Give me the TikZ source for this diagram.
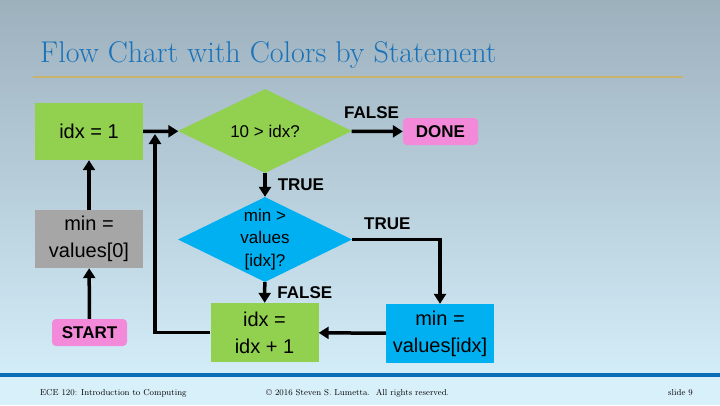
\documentclass[tikz,border=0pt]{standalone}
\usepackage{fontspec}
\newfontfamily\arial{Liberation Sans}
\usetikzlibrary{arrows.meta,shapes.geometric}

\definecolor{bgtop}{HTML}{9DB1BD}
\definecolor{bgmid}{HTML}{BDD7E4}
\definecolor{bgbot}{HTML}{D2ECF8}
\definecolor{footbg}{HTML}{D8F0FA}
\definecolor{footblue}{HTML}{0B6DB7}
\definecolor{titleblue}{HTML}{1A72B9}
\definecolor{rulegold}{HTML}{C8B26C}
\definecolor{stmtgreen}{HTML}{92D050}
\definecolor{stmtblue}{HTML}{00B0F0}
\definecolor{stmtgray}{HTML}{A6A6A6}
\definecolor{termpink}{HTML}{F28AD9}

\tikzset{
  stmt/.style={rectangle, inner sep=0pt, minimum width=108pt, minimum height=58pt,
    align=center, font=\arial\fontsize{20}{27}\selectfont},
  terminal/.style={rectangle, rounded corners=4pt, fill=termpink, inner sep=0pt,
    minimum width=75pt, minimum height=27pt, font=\arial\bfseries\fontsize{17}{17}\selectfont},
  decision/.style={diamond, aspect=2.05, inner sep=0pt, minimum width=174pt, minimum height=85pt,
    align=center, font=\arial\fontsize{17}{22.5}\selectfont},
  lbl/.style={inner sep=0pt, font=\arial\bfseries\fontsize{17}{17}\selectfont},
  flow/.style={line width=3.5pt, -{Triangle[length=10pt,width=12pt]}},
  foot/.style={inner sep=0pt, anchor=base west, font=\fontsize{8.6}{9}\selectfont}
}

\begin{document}
\begin{tikzpicture}[x=1pt,y=-1pt]
\useasboundingbox (0,0) rectangle (720,405);

% slide background and footer band
\shade[top color=bgtop, middle color=bgmid, bottom color=bgbot] (0,0) rectangle (720,373);
\fill[footbg] (0,373) rectangle (720,405);
\fill[footblue] (0,372.5) rectangle (720,377);

% title and rule
\node[anchor=base west, inner sep=0pt, text=titleblue, font=\fontsize{30}{30}\selectfont]
  (title) at (40,62) {Flow Chart with Colors by Statement};
\draw[line width=2pt, rulegold] (33,77) -- (683,77);

% flow chart nodes
\node[terminal] (start) at (89.5,332.5) {START};
\node[stmt, fill=stmtgray] (init) at (89,239) {min =\\values[0]};
\node[stmt, fill=stmtgreen, minimum height=57pt] (first) at (89,131.5) {idx = 1};
\node[decision, fill=stmtgreen, minimum height=84pt] (loop) at (265,131) {10 > idx?};
\node[terminal] (done) at (440.5,131.5) {DONE};
\node[decision, fill=stmtblue] (cmp) at (265,239.5) {min >\\values\\{[idx]?}};
\node[stmt, fill=stmtgreen, minimum height=59pt] (incr) at (264.5,332.5) {idx =\\idx + 1};
\node[stmt, fill=stmtblue, minimum height=59pt] (upd) at (440,333.5) {min =\\values[idx]};
\coordinate (back) at (155,134);

% connectors
\draw[flow] (start) -- (init);
\draw[flow] (init) -- (first);
\draw[flow] (first) -- (loop);
\draw[flow] (loop) -- node[lbl, above=11pt, pos=0.39] {FALSE} (done);
\draw[flow] (loop) -- node[lbl, right=11pt, midway] {TRUE} (cmp);
\draw[flow] (cmp.east) -| node[lbl, above=8pt, pos=0.2] {TRUE} (upd.north);
\draw[flow] (cmp) -- node[lbl, right=11pt, midway] {FALSE} (incr);
\draw[flow] (upd) -- (incr);
\draw[flow] (incr.west) -| (back);

% footer
\node[foot] (course) at (40,395) {ECE 120: Introduction to Computing};
\node[foot] (copy) at (266,395) {\textcopyright\ 2016 Steven S. Lumetta.\ \ All rights reserved.};
\node[foot] (slide) at (668,395) {slide 9};
\end{tikzpicture}
\end{document}
